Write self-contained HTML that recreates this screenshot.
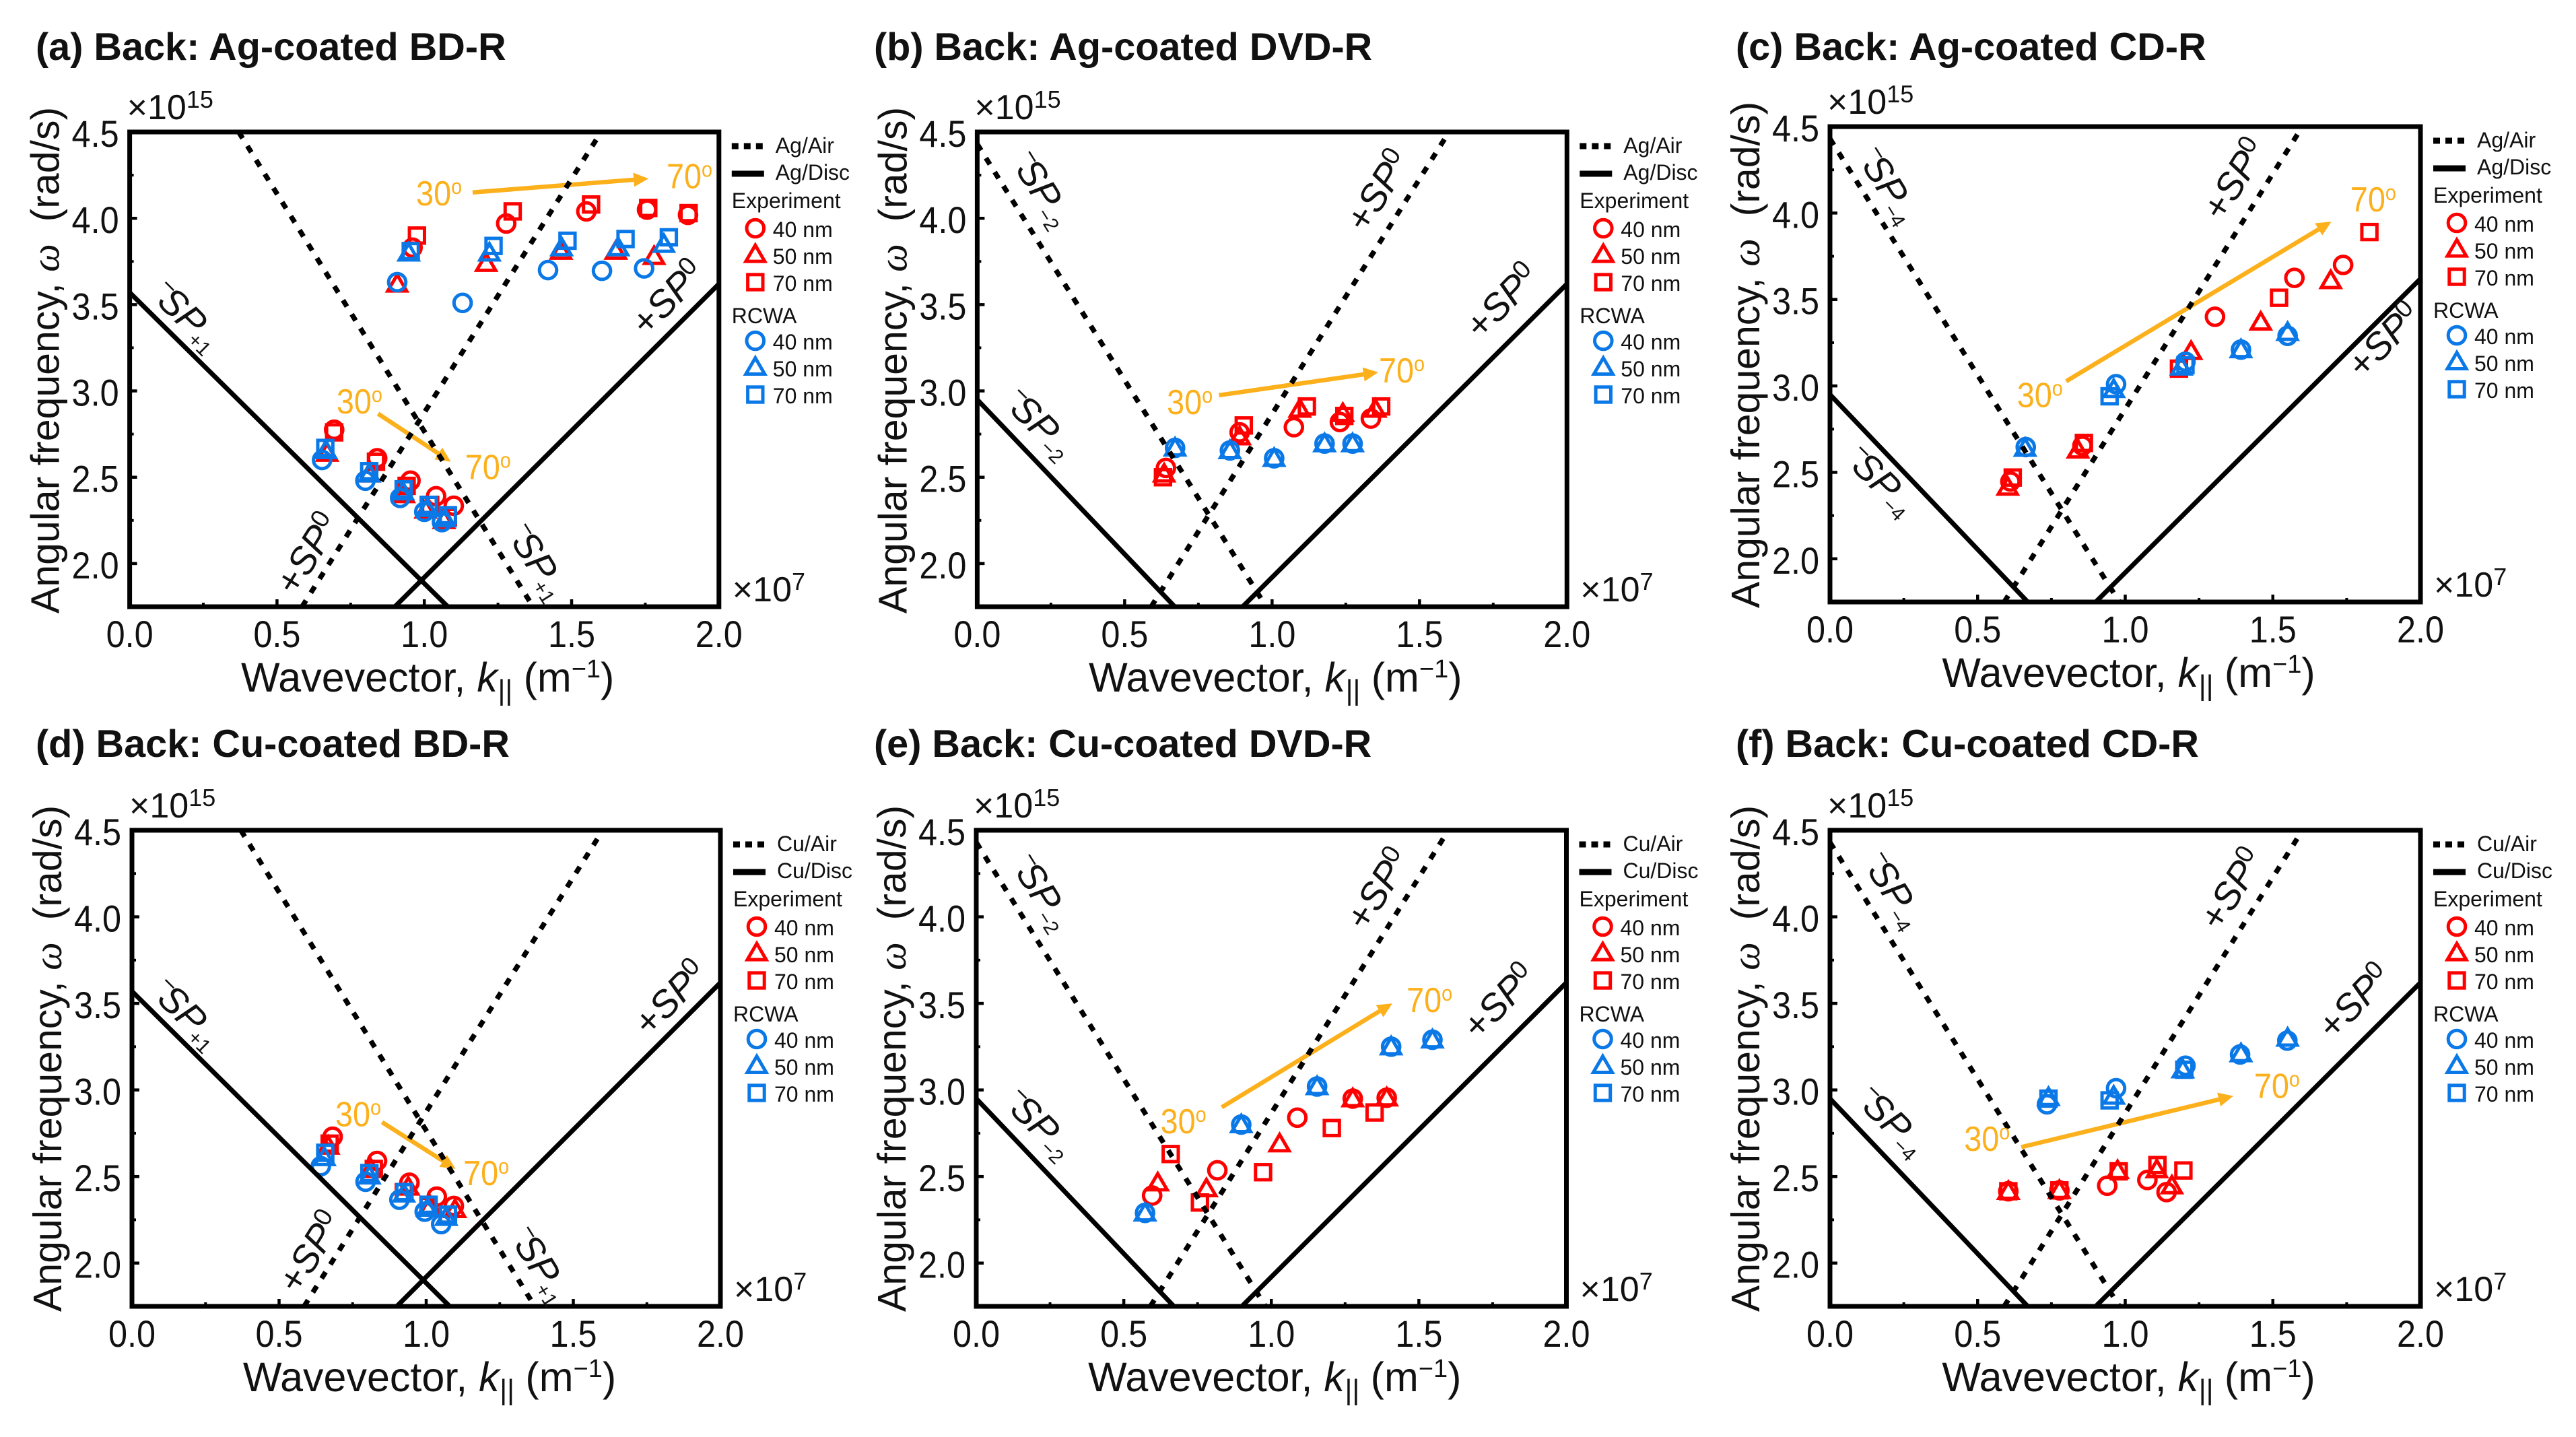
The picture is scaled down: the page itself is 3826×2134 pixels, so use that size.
<!DOCTYPE html>
<html lang="en">
<head>
<meta charset="utf-8">
<title>Dispersion relations of back-side Ag and Cu coated discs</title>
<style>
html,body{margin:0;padding:0;background:#fff;}
svg{display:block;font-family:"Liberation Sans",Arial,sans-serif;}
</style>
</head>
<body>
<svg id="figure" xmlns="http://www.w3.org/2000/svg" width="3826" height="2134" viewBox="0 0 3826 2134"></svg>
<script>
// axis tick labels
const xTickValues = [0, 0.5, 1, 1.5, 2];
const xTickLabels = ['0.0', '0.5', '1.0', '1.5', '2.0'];
const yTickValues = [2, 2.5, 3, 3.5, 4, 4.5];
const yTickLabels = ['2.0', '2.5', '3.0', '3.5', '4.0', '4.5'];
const xMinorValues = [0.25, 0.75, 1.25, 1.75];
const yMinorValues = [2.25, 2.75, 3.25, 3.75, 4.25];

// dispersion line end points [k, omega]
const bdAirDown = [[0.37, 4.5], [1.369, 1.75]];
const bdAirUp = [[0.585, 1.75], [1.6, 4.5]];
const bdDiscDown = [[0, 3.57], [1.08, 1.75]];
const bdDiscUp = [[0.9, 1.75], [2, 3.62]];
const dvdAirDown = [[0, 4.43], [0.98, 1.75]];
const dvdAirUp = [[0.59, 1.75], [1.6, 4.5]];
const dvdDiscDown = [[0, 2.95], [0.67, 1.75]];
const dvdDiscUp = [[0.9, 1.75], [2, 3.62]];

// panel (a)
const aExp40 = [[0.694,2.775],[0.84,2.61],[0.953,2.48],[1.04,2.39],[1.10,2.335],[0.96,3.83],[1.278,3.97],[1.55,4.04],[1.756,4.05],[1.895,4.02]];
const aExp50 = [[0.67,2.64],[0.813,2.52],[0.93,2.40],[1.005,2.31],[1.067,2.25],[0.908,3.62],[1.21,3.74],[1.464,3.81],[1.65,3.81],[1.78,3.78]];
const aExp70 = [[0.694,2.76],[0.836,2.59],[0.94,2.45],[1.02,2.34],[1.08,2.27],[0.975,3.90],[1.30,4.04],[1.566,4.08],[1.76,4.06],[1.897,4.03]];
const aRcwa40 = [[0.653,2.60],[0.80,2.48],[0.918,2.38],[1.0,2.30],[1.06,2.24],[0.908,3.63],[1.13,3.51],[1.42,3.70],[1.603,3.696],[1.746,3.71]];
const aRcwa50 = [[0.666,2.655],[0.813,2.52],[0.927,2.416],[1.01,2.32],[1.07,2.26],[0.947,3.80],[1.221,3.80],[1.466,3.83],[1.658,3.83],[1.813,3.85]];
const aRcwa70 = [[0.664,2.67],[0.813,2.535],[0.93,2.43],[1.015,2.34],[1.08,2.28],[0.954,3.81],[1.235,3.84],[1.486,3.87],[1.683,3.88],[1.83,3.89]];
// panel (b)
const bExp40 = [[0.64,2.554],[0.89,2.76],[1.074,2.79],[1.23,2.82],[1.335,2.84]];
const bExp50 = [[0.634,2.52],[0.89,2.735],[1.094,2.895],[1.24,2.87],[1.35,2.895]];
const bExp70 = [[0.63,2.50],[0.904,2.80],[1.118,2.91],[1.245,2.855],[1.37,2.91]];
const bRcwa40 = [[0.671,2.67],[0.857,2.655],[1.007,2.61],[1.178,2.695],[1.273,2.695]];
const bRcwa50 = [[0.671,2.67],[0.857,2.655],[1.007,2.61],[1.178,2.695],[1.273,2.695]];
const bRcwa70 = [];
// panel (c)
const cExp40 = [[0.611,2.447],[0.855,2.654],[1.304,3.40],[1.573,3.625],[1.738,3.70]];
const cExp50 = [[0.602,2.415],[0.84,2.63],[1.223,3.20],[1.459,3.37],[1.696,3.61]];
const cExp70 = [[0.619,2.47],[0.86,2.67],[1.182,3.10],[1.521,3.51],[1.827,3.89]];
const cRcwa40 = [[0.663,2.646],[0.969,3.01],[1.204,3.14],[1.392,3.21],[1.55,3.29]];
const cRcwa50 = [[0.661,2.64],[0.961,2.98],[1.19,3.11],[1.392,3.21],[1.55,3.31]];
const cRcwa70 = [[0.947,2.94],[1.204,3.12]];
// panel (d)
const dExp40 = [[0.682,2.73],[0.833,2.59],[0.943,2.464],[1.036,2.384],[1.094,2.33]];
const dExp50 = [[0.667,2.676],[0.812,2.544],[0.939,2.44],[1.014,2.33],[1.098,2.31]];
const dExp70 = [[0.672,2.69],[0.822,2.544],[0.924,2.41],[1.008,2.33],[1.074,2.28]];
const dRcwa40 = [[0.642,2.56],[0.794,2.47],[0.909,2.366],[0.995,2.297],[1.051,2.225]];
const dRcwa50 = [[0.654,2.61],[0.807,2.504],[0.924,2.40],[1.005,2.318],[1.068,2.265]];
const dRcwa70 = [[0.657,2.637],[0.807,2.52],[0.926,2.41],[1.008,2.337],[1.074,2.28]];
// panel (e)
const eExp40 = [[0.596,2.39],[0.817,2.536],[1.088,2.84],[1.276,2.95],[1.391,2.955]];
const eExp50 = [[0.615,2.464],[0.78,2.43],[1.028,2.69],[1.276,2.95],[1.391,2.955]];
const eExp70 = [[0.659,2.63],[0.758,2.35],[0.972,2.525],[1.205,2.78],[1.35,2.87]];
const eRcwa40 = [[0.572,2.29],[0.898,2.80],[1.155,3.02],[1.406,3.25],[1.546,3.29]];
const eRcwa50 = [[0.572,2.29],[0.898,2.80],[1.155,3.02],[1.406,3.25],[1.546,3.29]];
const eRcwa70 = [];
// panel (f)
const fExp40 = [[0.604,2.415],[0.777,2.42],[0.939,2.447],[1.075,2.48],[1.14,2.41]];
const fExp50 = [[0.604,2.415],[0.777,2.42],[0.974,2.535],[1.107,2.54],[1.158,2.447]];
const fExp70 = [[0.604,2.415],[0.777,2.42],[0.978,2.53],[1.109,2.566],[1.197,2.535]];
const fRcwa40 = [[0.735,2.917],[0.969,3.01],[1.204,3.14],[1.389,3.205],[1.549,3.285]];
const fRcwa50 = [[0.74,2.957],[0.961,2.965],[1.195,3.117],[1.392,3.21],[1.55,3.30]];
const fRcwa70 = [[0.74,2.95],[0.947,2.94],[1.2,3.117]];

const RED = '#ff0000';
const BLUE = '#0a78e6';
const ORANGE = '#fbb01c';
const INK = '#111111';
const NS = 'http://www.w3.org/2000/svg';
const SERIF_STACK = '"Liberation Serif",serif';

const panels = [
  {id:'a', title:'(a) Back: Ag-coated BD-R', metal:'Ag', left:192.6, right:1067.8, top:196, bottom:901, titleX:53, titleY:89,
   air:[bdAirDown,bdAirUp], disc:[bdDiscDown,bdDiscUp],
   series:[aExp40,aExp50,aExp70,aRcwa40,aRcwa50,aRcwa70],
   arrows:[{from:[1.164,4.15],to:[1.761,4.23],start:[1.05,4.146],end:[1.9,4.245]},{from:[0.843,2.868],to:[1.09,2.59],start:[0.78,2.94],end:[1.216,2.56]}],
   labels:[{m:'-',sub:'+1',x:273.5,y:465,r:45},{m:'+',x:992,y:442,r:-46},{m:'+',x:457,y:822,r:-58},{m:'-',sub:'+1',x:796,y:829,r:58}]},
  {id:'b', title:'(b) Back: Ag-coated DVD-R', metal:'Ag', left:1451.4, right:2327.3, top:196, bottom:901, titleX:1298, titleY:89,
   air:[dvdAirDown,dvdAirUp], disc:[dvdDiscDown,dvdDiscUp],
   series:[bExp40,bExp50,bExp70,bRcwa40,bRcwa50,bRcwa70],
   arrows:[{from:[0.82,2.975],to:[1.36,3.108],start:[0.721,2.935],end:[1.44,3.12]}],
   labels:[{m:'-',sub:'\u22122',x:1545,y:276,r:58},{m:'-',sub:'\u22122',x:1540,y:625,r:45},{m:'+',x:2047,y:283,r:-58},{m:'+',x:2231,y:447,r:-46}]},
  {id:'c', title:'(c) Back: Ag-coated CD-R', metal:'Ag', left:2718, right:3595, top:188, bottom:894, titleX:2578, titleY:89,
   air:[dvdAirDown,dvdAirUp], disc:[dvdDiscDown,dvdDiscUp],
   series:[cExp40,cExp50,cExp70,cRcwa40,cRcwa50,cRcwa70],
   arrows:[{from:[0.80,3.027],to:[1.698,3.95],start:[0.711,2.947],end:[1.84,4.08]}],
   labels:[{m:'-',sub:'\u22124',x:2802,y:270,r:58},{m:'-',sub:'\u22124',x:2790,y:710,r:45},{m:'+',x:3319,y:266,r:-58},{m:'+',x:3541,y:505,r:-46}]},
  {id:'d', title:'(d) Back: Cu-coated BD-R', metal:'Cu', left:196, right:1070, top:1233, bottom:1940, titleX:53, titleY:1124,
   air:[bdAirDown,bdAirUp], disc:[bdDiscDown,bdDiscUp],
   series:[dExp40,dExp50,dExp70,dRcwa40,dRcwa50,dRcwa70],
   arrows:[{from:[0.85,2.814],to:[1.10,2.544],start:[0.769,2.86],end:[1.204,2.52]}],
   labels:[{m:'-',sub:'+1',x:273.5,y:1501,r:45},{m:'+',x:996,y:1482,r:-46},{m:'+',x:461,y:1859,r:-58},{m:'-',sub:'+1',x:800,y:1873,r:58}]},
  {id:'e', title:'(e) Back: Cu-coated DVD-R', metal:'Cu', left:1450, right:2326.5, top:1233, bottom:1940, titleX:1298, titleY:1124,
   air:[dvdAirDown,dvdAirUp], disc:[dvdDiscDown,dvdDiscUp],
   series:[eExp40,eExp50,eExp70,eRcwa40,eRcwa50,eRcwa70],
   arrows:[{from:[0.832,2.90],to:[1.41,3.50],start:[0.702,2.82],end:[1.536,3.52]}],
   labels:[{m:'-',sub:'\u22122',x:1545,y:1320,r:58},{m:'-',sub:'\u22122',x:1540,y:1665,r:45},{m:'+',x:2047,y:1320,r:-58},{m:'+',x:2227,y:1487,r:-46}]},
  {id:'f', title:'(f) Back: Cu-coated CD-R', metal:'Cu', left:2718, right:3595, top:1233, bottom:1940, titleX:2578, titleY:1124,
   air:[dvdAirDown,dvdAirUp], disc:[dvdDiscDown,dvdDiscUp],
   series:[fExp40,fExp50,fExp70,fRcwa40,fRcwa50,fRcwa70],
   arrows:[{from:[0.648,2.67],to:[1.366,2.965],start:[0.532,2.718],end:[1.514,3.024]}],
   labels:[{m:'-',sub:'\u22124',x:2810,y:1317,r:58},{m:'-',sub:'\u22124',x:2806,y:1661,r:45},{m:'+',x:3315,y:1320,r:-58},{m:'+',x:3497,y:1487,r:-46}]}
];

const seriesKinds = [
  {shape:'circle', color:RED, name:'experiment-40nm'},
  {shape:'triangle', color:RED, name:'experiment-50nm'},
  {shape:'square', color:RED, name:'experiment-70nm'},
  {shape:'circle', color:BLUE, name:'rcwa-40nm'},
  {shape:'triangle', color:BLUE, name:'rcwa-50nm'},
  {shape:'square', color:BLUE, name:'rcwa-70nm'}
];

function mk(tag, parent, attrs) {
  const node = document.createElementNS(NS, tag);
  for (const key in attrs) node.setAttribute(key, attrs[key]);
  parent.appendChild(node);
  return node;
}
function span(parent, str, attrs) {
  const node = mk('tspan', parent, attrs || {});
  node.textContent = str;
  return node;
}
function drawMarker(parent, shape, color, cx, cy) {
  const common = {fill:'none', stroke:color, 'stroke-width':5, 'stroke-miterlimit':6};
  let node;
  if (shape === 'circle') {
    node = mk('circle', parent, Object.assign({cx:cx, cy:cy, r:12.8}, common));
  } else if (shape === 'triangle') {
    node = mk('path', parent, Object.assign({d:`M${cx} ${cy-13.5}L${cx+14} ${cy+10.5}L${cx-14} ${cy+10.5}Z`}, common));
  } else {
    node = mk('rect', parent, Object.assign({x:cx-11.2, y:cy-11.2, width:22.4, height:22.4}, common));
  }
  return node;
}
function drawLineLabel(parent, lab) {
  const t = mk('text', parent, {transform:`translate(${lab.x} ${lab.y}) rotate(${lab.r})`, 'text-anchor':'middle', y:19, 'font-size':56, fill:INK});
  if (lab.m === '-') {
    span(t, '\u2212', {'font-size':36, dy:-20, dx:6});
    span(t, 'SP', {'font-style':'italic', dy:20, dx:-8});
    span(t, lab.sub, {'font-size':30, dy:8, dx:-2});
  } else {
    span(t, '+');
    span(t, 'SP', {'font-style':'italic'});
    span(t, '0', {'font-size':38, dy:-18});
  }
  return t;
}
function drawDegree(parent, str, x, y) {
  const t = mk('text', parent, {transform:`translate(${x} ${y+18}) scale(.9 1)`, 'text-anchor':'middle', 'font-size':52, fill:ORANGE});
  span(t, str);
  span(t, 'o', {'font-size':32, dy:-17});
  return t;
}

const svg = document.getElementById('figure');

panels.forEach(function (p) {
  const sx = function (k) { return p.left + (k / 2) * (p.right - p.left); };
  const sy = function (w) { return p.bottom - ((w - 1.75) / 2.75) * (p.bottom - p.top); };

  const g = mk('g', svg, {});
  
  

  const title = mk('text', g, {x:p.titleX, y:p.titleY, 'font-size':57.6, 'font-weight':'bold', fill:INK});
  title.textContent = p.title;
  
  

  const clip = mk('clipPath', g, {id:`clip-${p.id}`});
  mk('rect', clip, {x:p.left, y:p.top, width:p.right-p.left, height:p.bottom-p.top});

  const plot = mk('g', g, {'clip-path':`url(#clip-${p.id})`});
  
  

  // data points
  p.series.forEach(function (points, si) {
    const kind = seriesKinds[si];
    const sg = mk('g', plot, {});
    
    
    points.forEach(function (pt) {
      const marker = drawMarker(sg, kind.shape, kind.color, sx(pt[0]), sy(pt[1]));
      
      
    });
  });

  // angle arrows
  p.arrows.forEach(function (a) {
    const x1 = sx(a.from[0]), y1 = sy(a.from[1]), x2 = sx(a.to[0]), y2 = sy(a.to[1]);
    const ang = Math.atan2(y2 - y1, x2 - x1);
    const hx = x2 - 22 * Math.cos(ang), hy = y2 - 22 * Math.sin(ang);
    const nx = -Math.sin(ang) * 10.5, ny = Math.cos(ang) * 10.5;
    const shaft = mk('line', plot, {x1:x1, y1:y1, x2:hx, y2:hy, stroke:ORANGE, 'stroke-width':6.5});
    
    
    const head = mk('polygon', plot, {points:`${x2},${y2} ${hx+nx},${hy+ny} ${hx-nx},${hy-ny}`, fill:ORANGE});
    
    
    const startLabel = drawDegree(g, '30', sx(a.start[0]), sy(a.start[1]));
    
    
    const endLabel = drawDegree(g, '70', sx(a.end[0]), sy(a.end[1]));
    
    
  });

  // dispersion lines
  p.air.forEach(function (seg) {
    const line = mk('line', plot, {x1:sx(seg[0][0]), y1:sy(seg[0][1]), x2:sx(seg[1][0]), y2:sy(seg[1][1]), stroke:'#000', 'stroke-width':7.5, 'stroke-dasharray':'11 13.5'});
    
    
  });
  p.disc.forEach(function (seg) {
    const line = mk('line', plot, {x1:sx(seg[0][0]), y1:sy(seg[0][1]), x2:sx(seg[1][0]), y2:sy(seg[1][1]), stroke:'#000', 'stroke-width':7});
    
    
  });

  // frame
  const frame = mk('rect', g, {x:p.left, y:p.top, width:p.right-p.left, height:p.bottom-p.top, fill:'none', stroke:'#000', 'stroke-width':7});
  
  

  // ticks
  xTickValues.forEach(function (v, i) {
    if (v > 0 && v < 2) {
      const tick = mk('line', g, {x1:sx(v), x2:sx(v), y1:p.bottom, y2:p.bottom-11, stroke:'#000', 'stroke-width':4.5});
      
      
    }
    const label = mk('text', g, {transform:`translate(${sx(v)} ${p.bottom+60}) scale(.9 1)`, 'text-anchor':'middle', 'font-size':56, fill:INK});
    label.textContent = xTickLabels[i];
    
    
  });
  xMinorValues.forEach(function (v) {
    const tick = mk('line', g, {x1:sx(v), x2:sx(v), y1:p.bottom, y2:p.bottom-6, stroke:'#000', 'stroke-width':4});
    
    
  });
  yTickValues.forEach(function (v, i) {
    if (v < 4.5) {
      const tick = mk('line', g, {x1:p.left, x2:p.left+11, y1:sy(v), y2:sy(v), stroke:'#000', 'stroke-width':4.5});
      
      
    }
    const label = mk('text', g, {transform:`translate(${p.left-16} ${sy(v)+22}) scale(.9 1)`, 'text-anchor':'end', 'font-size':56, fill:INK});
    label.textContent = yTickLabels[i];
    
    
  });
  yMinorValues.forEach(function (v) {
    const tick = mk('line', g, {x1:p.left, x2:p.left+6, y1:sy(v), y2:sy(v), stroke:'#000', 'stroke-width':4});
    
    
  });

  // axis titles
  const xTitle = mk('text', g, {x:(p.left+p.right)/2+5, y:p.bottom+126, 'text-anchor':'middle', 'font-size':61, fill:INK});
  span(xTitle, 'Wavevector, ');
  span(xTitle, 'k', {'font-style':'italic'});
  span(xTitle, '||', {'font-size':42, 'font-style':'italic', dy:12});
  span(xTitle, ' (m', {dy:-12});
  span(xTitle, '\u22121', {'font-size':38, dy:-21});
  span(xTitle, ')', {dy:21});
  
  

  const yTitle = mk('text', g, {transform:`translate(${p.left-105} ${p.top+339}) rotate(-90)`, 'text-anchor':'middle', 'font-size':59, fill:INK});
  span(yTitle, 'Angular frequency, ');
  span(yTitle, '\u03C9', {'font-style':'italic', 'font-family':SERIF_STACK});
  span(yTitle, '\u00A0\u00A0(rad/s)');
  
  

  // scale factors
  const yScale = mk('text', g, {x:p.left-4, y:p.top-19, 'font-size':52, fill:INK});
  span(yScale, '\u00D710');
  span(yScale, '15', {'font-size':36, dy:-17});
  
  

  const xScale = mk('text', g, {x:p.right+20, y:p.bottom-8, 'font-size':52, fill:INK});
  span(xScale, '\u00D710');
  span(xScale, '7', {'font-size':36, dy:-17});
  
  

  // line annotations
  p.labels.forEach(function (lab) {
    const t = drawLineLabel(g, lab);
    
    
  });

  // legend
  const legend = mk('g', g, {transform:`translate(${p.right} ${p.top})`, 'font-size':32, fill:INK});
  
  

  const airKey = mk('line', legend, {x1:19, x2:70, y1:21, y2:21, stroke:'#000', 'stroke-width':9, 'stroke-dasharray':'10 8'});
  
  
  const airText = mk('text', legend, {x:84, y:31});
  airText.textContent = p.metal + '/Air';
  
  

  const discKey = mk('line', legend, {x1:19, x2:67, y1:62, y2:62, stroke:'#000', 'stroke-width':9});
  
  
  const discText = mk('text', legend, {x:84, y:71});
  discText.textContent = p.metal + '/Disc';
  
  

  const expHead = mk('text', legend, {x:19, y:113});
  expHead.textContent = 'Experiment';
  
  
  const rcwaHead = mk('text', legend, {x:19, y:284});
  rcwaHead.textContent = 'RCWA';
  
  

  [[143,156,'40 nm',0],[181.6,196,'50 nm',1],[223,236,'70 nm',2],[310,323,'40 nm',3],[349,363,'50 nm',4],[390,403,'70 nm',5]].forEach(function (row) {
    const kind = seriesKinds[row[3]];
    const key = drawMarker(legend, kind.shape, kind.color, 54, row[0]);
    
    
    const txt = mk('text', legend, {x:80, y:row[1]});
    txt.textContent = row[2];
    
    
  });
});
</script>
</body>
</html>
